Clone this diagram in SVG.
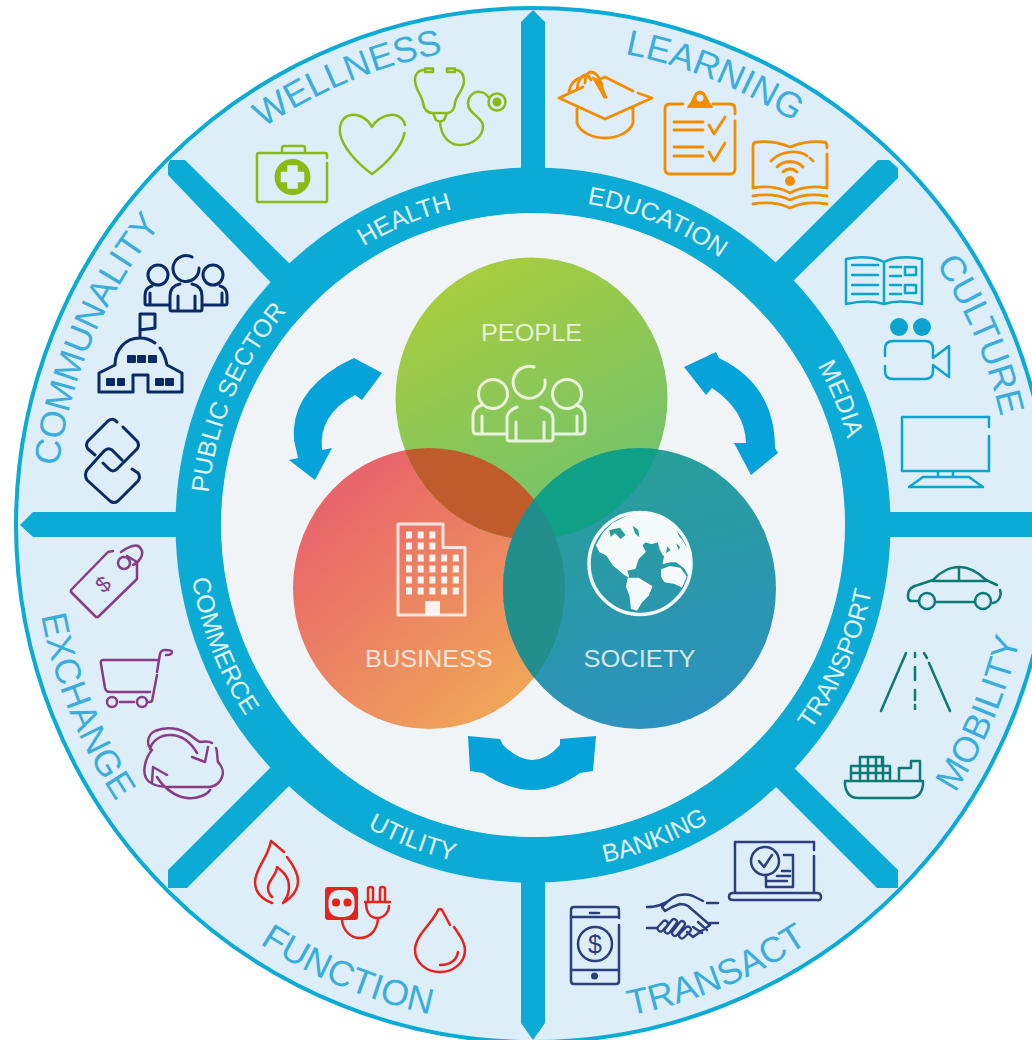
<svg xmlns="http://www.w3.org/2000/svg" width="1032" height="1040" viewBox="0 0 1032 1040">
<style>
text{font-family:"Liberation Sans",Arial,sans-serif}
.o{font-size:36px;fill:#3AADDC}
.i{font-size:25px;fill:#E2F3F9}
.c{font-size:24px;fill:#fff;fill-opacity:.78;text-anchor:middle}
.ic{fill:none;stroke-linecap:round;stroke-linejoin:round;stroke-width:2.5}
.g{stroke:#8ABB14}.or{stroke:#F28C00;stroke-width:2.8}.cy{stroke:#0AA5CF}.nv{stroke:#0A2A66;stroke-width:3}.pu{stroke:#8A3B85}.re{stroke:#E5231B}.tn{stroke:#2C3E7E}.te{stroke:#0B7A75}
.wh{stroke:#fff;stroke-opacity:.8;stroke-width:3;fill:none;stroke-linecap:round;stroke-linejoin:round}
.sp{fill:#0BABD6}
.ar{fill:#05A3D9}
.fa{stroke:#2C3E7E;stroke-width:8;stroke-linecap:round}
.fb{stroke:#DDEEF9;stroke-width:3.5;stroke-linecap:round}
</style>
<defs>
<path id="tO" d="M53 525A480 480 0 0 1 1013 525"/>
<path id="tO2" d="M55 525A478 478 0 0 1 1011 525"/>
<path id="bO" d="M33 525A500 500 0 0 0 1033 525"/>
<path id="tI" d="M207 525A326 326 0 0 1 859 525"/>
<path id="bI" d="M188 525A345 345 0 0 0 878 525"/>
<linearGradient id="gP" x1=".25" y1="0" x2=".75" y2="1"><stop offset="0" stop-color="#ABCD3C"/><stop offset="1" stop-color="#6CC172"/></linearGradient>
<linearGradient id="gB" x1=".1" y1=".1" x2=".8" y2=".95"><stop offset="0" stop-color="#E85F6C"/><stop offset="1" stop-color="#F0A858"/></linearGradient>
<linearGradient id="gS" x1=".4" y1="0" x2=".7" y2="1"><stop offset="0" stop-color="#279F96"/><stop offset="1" stop-color="#2D91C0"/></linearGradient>
<clipPath id="cP"><ellipse cx="531.5" cy="398.5" rx="136" ry="141"/></clipPath>
<clipPath id="cB"><ellipse cx="429" cy="588.5" rx="136" ry="140.5"/></clipPath>
</defs>
<rect width="1032" height="1040" fill="#fff"/>
<g id="wheel">
<circle cx="533" cy="525" r="517" fill="#DDEEF9" stroke="#0BABD6" stroke-width="4"/>
<path class="sp" d="M521 180V22L533 10L545 22V180Z"/>
<path class="sp" d="M521 870V1023L533 1040L545 1023V870Z"/>
<path class="sp" d="M190 512H33L20 525L33 537H190Z"/>
<path class="sp" d="M876 512H1032V537H876Z"/>
<path class="sp" d="M296 270L185 160H170L168 165V175L278 290Z"/>
<path class="sp" d="M768 270L878 160H889L898 168V178L786 288Z"/>
<path class="sp" d="M296 779L187 888H168V870L278 760Z"/>
<path class="sp" d="M768 779L877 888H898V870L786 760Z"/>
<circle cx="533" cy="525" r="334.500" fill="none" stroke="#0BABD6" stroke-width="46"/>
<circle cx="533" cy="525" r="312" fill="#F1F4F7"/>
</g>
<g id="sector-wellness">
<text class="o" transform="rotate(-22.500 533 525)"><textPath href="#tO" startOffset="50%" text-anchor="middle">WELLNESS</textPath></text>
<text class="i" transform="rotate(-22.800 533 525)"><textPath href="#tI" startOffset="50%" text-anchor="middle">HEALTH</textPath></text>
<path class="ic g" d="M327 163V200Q327 202 325 202H259Q257 202 257 200V155Q257 153 259 153H325Q327 153 327 155V158M282 152V148Q282 146 284 146H303Q305 146 305 148V152"/>
<circle cx="292.500" cy="177" r="18" fill="#8ABB14"/>
<path d="M288 166H297V172.500H303.500V181.500H297V188H288V181.500H281.500V172.500H288Z" fill="#DDEEF9" stroke="#DDEEF9" stroke-width="1.500" stroke-linejoin="round"/>
<path class="ic g" stroke-width="3" d="M372 127C366 116 356 114 351 115C343 116 339 124 340 133C342 147 358 164 372 174C386 164 402 147 404.500 133M405 125C403 117 396 114 390 115C382 116 375 121 372 127"/>
<path class="ic g" d="M423 70C417 71 415 75 415 80C415 90 422 95 423 103C424 110 428 113 433 113H447C452 113 455 108 455 103C456 95 464 90 464 81C464 75 461 71 457 70M425 68.500H433V72H425ZM447 68.500H455V72H447ZM433 113L436 120Q440 123 444 120L447 113M440 122C441 136 449 145 460 145C472 145 483 137 483 126C483 117 468 114 468 104C468 96 474 91 480 92C484 92 487 95 489 98"/>
<circle class="ic g" cx="497" cy="102" r="8.500"/><circle cx="497" cy="102" r="4.500" fill="#8ABB14"/>
</g>
<g id="sector-learning">
<text class="o" transform="rotate(22 533 525)"><textPath href="#tO" startOffset="50%" text-anchor="middle">LEARNING</textPath></text>
<text class="i" transform="rotate(22.300 533 525)"><textPath href="#tI" startOffset="50%" text-anchor="middle">EDUCATION</textPath></text>
<path class="ic or" d="M633 91L605 77L598 80M638 93L652 98L605 119L559 98L583 87M577 108V123C580 132 592 138 605 138C618 138 630 132 633 123V108M569 92C570 85 573 79 583 77M577 88C578 80 582 75 586 75C588 75 590 78 591 80M585 83C585 76 588 72 591 72C595 72 599 76 602 85"/>
<path d="M592 77L600 80L607 98L604 98Z" fill="#F28C00" stroke="#F28C00" stroke-linejoin="round"/>
<path class="ic or" d="M683 104H670Q665 104 665 109V169Q665 174 670 174H730Q735 174 735 169V121M735 114V109Q735 104 730 104H713M674 122H703M674 130H703M674 147H703M674 156H703M709 125L714 134L725 117M709 152L714 161L725 143"/>
<path d="M687 108Q687 105 690 103L695 93Q700 88 705 93L710 103Q713 105 713 108Z" fill="#F28C00"/><circle cx="700" cy="98" r="3.500" fill="#DDEEF9"/>
<path class="ic or" d="M827 154V188C815 186 801 187 790 193C779 187 765 186 753 188V146Q753 142 757 142C768 141 780 143 790 147C800 143 812 141 823 142Q827 142 827 146V148M753 196C766 194 780 195 790 200C800 195 814 194 827 196M753 204C766 202 780 203 790 208C800 203 814 202 827 204M771 161C781 150 799 150 807 156M810 158L813 161M777 167C783 160 797 160 803 167M783 172C787 168 793 168 797 172"/>
<circle cx="790" cy="181" r="5" fill="#F28C00"/>
</g>
<g id="sector-culture">
<text class="o" transform="rotate(67 533 525)"><textPath href="#tO" startOffset="50%" text-anchor="middle">CULTURE</textPath></text>
<text class="i" transform="rotate(67.700 533 525)"><textPath href="#tI" startOffset="50%" text-anchor="middle">MEDIA</textPath></text>
<path class="ic cy" d="M846 304V259C860 256 875 257 884 262C893 257 908 256 922 259V304C908 301 893 301 884 304C875 301 860 301 846 304ZM884 262V304M852 265H878M852 275H878M852 285H878M852 294H878M890 267H901M890 276H901M890 285H901M890 294H901"/>
<rect class="ic cy" x="905" y="267" width="11" height="8"/><rect class="ic cy" x="905" y="285" width="11" height="8"/>
<circle cx="899" cy="327" r="9" fill="#0AA5CF"/><circle cx="922" cy="327" r="9" fill="#0AA5CF"/>
<path class="ic cy" d="M885 356V349Q885 341 893 341H925Q933 341 933 349V358L949 346V377L933 365V371Q933 379 925 379H893Q885 379 885 371V366"/>
<path class="ic cy" d="M989 436V471H902V417H989V427M938 471V477M953 471V477M909 487L923 477H969L983 487Z"/>
</g>
<g id="sector-mobility">
<text class="o" transform="rotate(-67.200 533 525)"><textPath href="#bO" startOffset="50%" text-anchor="middle">MOBILITY</textPath></text>
<text class="i" transform="rotate(-66.300 533 525)"><textPath href="#bI" startOffset="50%" text-anchor="middle">TRANSPORT</textPath></text>
<path class="ic te" d="M919 601H912C908 601 908 598 908 595C908 590 912 586 918 585L933 580C940 572 950 567 959 567C968 567 978 572 986 580L997 585M1000 590C1002 595 999 602 993 603M933 581H986M959 568V581M936 602H975"/>
<circle class="ic te" cx="927" cy="601" r="8"/><circle class="ic te" cx="983" cy="601" r="8"/>
<path class="ic te" d="M906 653L881 711M929 663L950 711M924 653L927 658M915 653V657M915 667V680M915 690V700M915 705V709"/>
<path class="ic te" d="M845 781H923V785Q921 798 910 798H858Q847 798 845 785ZM851 781V766H890V781M860 766V757H882V766M851 773H890M860 757V781M868 757V781M876 757V781M883 757V781M899 780V768H911V761H920V781"/>
</g>
<g id="sector-transact">
<text class="o" transform="rotate(-22.300 533 525)"><textPath href="#bO" startOffset="50%" text-anchor="middle">TRANSACT</textPath></text>
<text class="i" transform="rotate(-21.300 533 525)"><textPath href="#bI" startOffset="50%" text-anchor="middle">BANKING</textPath></text>
<path class="ic tn" d="M619 925V981Q619 984 616 984H574Q571 984 571 981V910Q571 907 574 907H616Q619 907 619 910V918M571 917H619M571 970H619M590 913H599"/>
<circle cx="594.500" cy="976" r="3.500" fill="#2C3E7E"/><circle class="ic tn" cx="595" cy="944" r="17"/>
<text x="595" y="953" text-anchor="middle" font-size="25" fill="#2C3E7E">$</text>
<path class="fa" d="M660.500 928.500L665 923.500M667.500 930.500L674 922M675 933L682 924M682 935.500L688 929.500"/>
<path class="fb" d="M660.500 928.500L665 923.500M667.500 930.500L674 922M675 933L682 924M682 935.500L688 929.500"/>
<path class="ic tn" d="M647 907Q655 907 660 905L667 902C672 898 676 895 680 895C686 894 690 895 693 896L703 901M707 903H718M667 902L662 907L665 911L672 907L680 904Q685 904 688 906L710 925M710 923H718M647 928H657M687 932L693 937L710 925M698 922L707 930M693 927L702 933"/>
<path class="ic tn" d="M735 893V842H814V850M814 856V893M766 876V887H793V855H784M729 897Q729 893 733 893H817Q821 893 821 897T817 900H733Q729 900 729 897ZM782 871H790M777 876H790M767 881H787M759 861L764 867L772 855"/>
<circle class="ic tn" cx="765" cy="861" r="14"/>
</g>
<g id="sector-function">
<text class="o" transform="rotate(22.500 533 525)"><textPath href="#bO" startOffset="50%" text-anchor="middle">FUNCTION</textPath></text>
<text class="i" transform="rotate(21 533 525)"><textPath href="#bI" startOffset="50%" text-anchor="middle">UTILITY</textPath></text>
<path class="ic re" d="M272 903C262 899 255 892 255 882C255 869 268 858 271 841L284 852M287 857C294 866 298 873 298 881C298 891 291 898 283 903C289 896 290 888 288 880C286 874 281 870 277 867C277 875 268 880 268 888C268 892 270 895 272 897"/>
<rect x="325" y="887" width="33" height="33" rx="3" fill="#E5231B"/><rect x="328.500" y="890" width="26" height="27" rx="10" fill="#DDEEF9"/>
<rect x="332" y="898.500" width="8" height="8" rx="3.500" fill="#E5231B"/><rect x="343.500" y="898.500" width="8" height="8" rx="3.500" fill="#E5231B"/>
<path class="ic re" d="M342 920C343 931 351 938 360 938C369 938 377 931 378 919M365 902H390M366 902C366 912 370 918 377 918C384 918 389 912 389 906M368 902V889Q368 887 370.500 887Q373 887 373 889V902M380 902V889Q380 887 382.500 887Q385 887 385 889V902"/>
<path class="ic re" d="M450 925C447 919 444 914 442 910Q440 908 438 910C433 923 415 935 415 950C415 963 427 972 440 972C453 972 465 963 465 950C465 941 458 933 454 927M458 952C457 960 450 965 440 965"/>
</g>
<g id="sector-exchange">
<text class="o" transform="rotate(68 533 525)"><textPath href="#bO" startOffset="50%" text-anchor="middle">EXCHANGE</textPath></text>
<text class="i" transform="rotate(68.700 533 525)"><textPath href="#bI" startOffset="50%" text-anchor="middle">COMMERCE</textPath></text>
<path class="ic pu" d="M113 551L108 552L71 590L71 592L96 617L98 617L137 579L137 562M137 562L127 556M121 552C128 547 138 542 141 549C145 555 138 563 133 565"/>
<circle class="ic pu" cx="124" cy="563" r="6"/>
<text transform="translate(108 590) rotate(-40)" text-anchor="middle" font-size="22" fill="#8A3B85">$</text>
<path class="ic pu" d="M157 660H103Q100 660 101 664L105 688Q106 692 110 692H150M157 672L160 654Q161 650 165 650Q172 650 172 652Q172 655 166 655M157 675L152 701Q151 702 149 702M120 702H134"/>
<circle class="ic pu" cx="112" cy="702" r="5"/><circle class="ic pu" cx="142" cy="702" r="5"/>
<path class="ic pu" d="M210 787H170C160 787 150 785 146 778C142 770 146 757 152 750C146 745 147 735 155 731C166 726 180 728 190 735C194 738 197 741 200 742C205 741 209 741 212 743M216 748C218 753 217 759 218 762C222 766 224 772 222 777C220 783 215 786 210 787M150 749C152 741 160 735 170 735C180 735 190 741 197 753M192 757L205 762L208 747M157 777C163 787 175 797 187 798C197 799 207 795 210 790M152 782L153 767L167 775"/>
</g>
<g id="sector-communality">
<text class="o" transform="rotate(-67 533 525)"><textPath href="#tO2" startOffset="50%" text-anchor="middle">COMMUNALITY</textPath></text>
<text class="i" transform="rotate(-66.700 533 525)"><textPath href="#tI" startOffset="50%" text-anchor="middle">PUBLIC SECTOR</textPath></text>
<path class="ic nv" d="M192 257A13 13 0 1 0 199 268M170 309V296Q170 286 180 284M192 284Q202 286 202 296V309Q202 311 200 311H172Q170 311 170 309M178 296V311M195 296V311"/>
<circle class="ic nv" cx="158" cy="275" r="10"/><circle class="ic nv" cx="213" cy="275" r="10"/>
<path class="ic nv" d="M168 305H147Q145 305 145 303V295Q145 288 152 286M204 305H225Q227 305 227 303V295Q227 288 220 286M150 293V305M222 293V305"/>
<path class="ic nv" d="M140 338V314H155V328L140 330M115 365C115 350 125 338 140 338C146 338 151 340 155 343M160 348C164 353 166 360 167 365L182 373V392H148V375H133V392H99V373L115 365"/>
<g fill="#0A2A66"><rect x="127" y="355" width="9" height="8" rx="1"/><rect x="137" y="355" width="9" height="8" rx="1"/><rect x="148" y="355" width="9" height="8" rx="1"/><rect x="106" y="378" width="9" height="8" rx="1"/><rect x="117" y="378" width="8" height="8" rx="1"/><rect x="155" y="378" width="9" height="8" rx="1"/><rect x="165" y="378" width="9" height="8" rx="1"/></g>
<path class="ic nv" d="M117 422Q113 417 108 421L88 441Q85 445 88 449L95 455M123 427L137 441Q140 445 137 449L117 469Q113 473 109 469L103 463M122 460L112 450Q108 447 104 451L87 470Q84 475 87 480L110 501Q114 504 118 501L138 481Q141 477 138 473L132 469"/>
</g>
<g id="node-business">
<ellipse cx="429" cy="588.500" rx="136" ry="140.500" fill="url(#gB)"/>
<text class="c" x="429" y="667" textLength="128" lengthAdjust="spacingAndGlyphs">BUSINESS</text>
<path class="wh" d="M398 615V524H443V547.500H465V615Z"/>
<g fill="#fff" fill-opacity=".88"><rect x="425" y="601" width="15" height="14"/>
<path stroke="#fff" stroke-opacity=".9" stroke-width="7" stroke-dasharray="6 5.700" d="M406 535H437M406 546H437M406 558H462M406 569H462M406 580H462M406 591H462"/></g>
</g>
<g id="node-people">
<ellipse cx="531.500" cy="398.500" rx="136" ry="141" fill="url(#gP)"/>
<ellipse clip-path="url(#cB)" cx="531.500" cy="398.500" rx="136" ry="141" fill="#C05B2C"/>
<text class="c" x="531.500" y="340.500" textLength="101" lengthAdjust="spacingAndGlyphs">PEOPLE</text>
<path class="wh" d="M534 367A16 16 0 1 0 545 380M507 438V418Q507 411 517 407M541 407Q553 411 553 418V438Q553 441 550 441H510Q507 441 507 438M516 422V441M544 422V441M506 434H477Q473 434 473 430V416Q473 408 482 405M553 434H581Q585 434 585 430V416Q585 408 576 405M482 416V434M577 416V434"/>
<circle class="wh" cx="493" cy="394" r="14.500"/><circle class="wh" cx="567" cy="394" r="14.500"/>
</g>
<g id="node-society">
<ellipse cx="639.500" cy="588.500" rx="136.500" ry="140.500" fill="url(#gS)"/>
<ellipse clip-path="url(#cP)" cx="639.500" cy="588.500" rx="136.500" ry="140.500" fill="#10A087"/>
<ellipse clip-path="url(#cB)" cx="639.500" cy="588.500" rx="136.500" ry="140.500" fill="#238F8C"/>
<text class="c" x="639.500" y="667" textLength="112" lengthAdjust="spacingAndGlyphs">SOCIETY</text>
<circle cx="640" cy="563.500" r="51" fill="none" stroke="#fff" stroke-opacity=".95" stroke-width="3.500"/>
<g transform="translate(580 505) scale(.3333)">
<path fill="#fff" fill-opacity=".95" stroke="#fff" stroke-width="4" stroke-linejoin="round" d="M50 120L70 85L100 55L140 35L180 25L220 30L260 50L285 70L298 100L285 110L280 130L265 140L250 150L240 130L235 110L215 115L195 110L185 120L195 140L175 160L165 190L140 195L145 215L130 205L100 180L80 150L60 140ZM145 220L175 220L215 245L205 270L185 290L170 315L155 310L150 270L140 245ZM285 85L305 105L325 140L332 180L325 208L315 190L290 170L270 170L250 175L255 150L275 130ZM245 195L270 185L300 190L318 215L305 245L285 235L255 230L245 215Z"/>
<path fill="#2A9C9C" d="M88 75L120 68L137 90L122 102L105 85L92 95ZM158 62L175 75L178 97L165 85ZM288 115L300 125L296 135ZM262 125L272 135L258 145Z"/>
</g>
</g>
<g id="connectors">
<path class="ar" d="M382 373L354 358L340 365Q290 395 294 440L298 458L289 460L315 480L332 448L322 450Q318 415 355 395L362 400Z"/>
<path class="ar" d="M684 367L716 352L719 358Q775 385 775 448L778 453L751 475L734 443L746 443Q745 410 712 388L706 395Z"/>
<path class="ar" d="M468 736L500 739L503 745Q533 775 560 745L560 739L596 736L593 771L580 773Q533 807 483 773L470 771Z"/>
</g>
</svg>
